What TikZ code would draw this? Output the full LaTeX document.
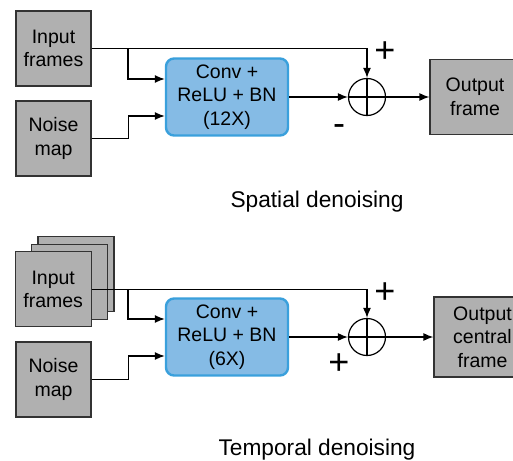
\documentclass[tikz,border=0pt]{standalone}
\usepackage{fontspec}
\setmainfont{Liberation Sans}
\usetikzlibrary{arrows.meta}
\definecolor{framegray}{RGB}{176,176,176}
\definecolor{convblue}{RGB}{133,187,229}
\definecolor{convedge}{RGB}{58,160,220}

\begin{document}
\begin{tikzpicture}[x=1pt,y=-1pt,line cap=butt,line join=miter,
  frame/.style={draw=black!80,fill=framegray,line width=1.2pt,minimum width=75pt,
    minimum height=75pt,inner sep=0pt,align=center,font=\fontsize{19.5}{23.5}\selectfont},
  conv/.style={draw=convedge,fill=convblue,line width=2.4pt,rounded corners=8pt,
    minimum width=122pt,minimum height=77pt,inner sep=0pt,align=center,
    font=\fontsize{19.5}{23.5}\selectfont},
  sum/.style={draw,circle,minimum size=37pt,inner sep=0pt,line width=1.2pt},
  sign/.style={inner sep=0pt,font=\fontsize{36}{36}\selectfont},
  caption/.style={inner sep=0pt,font=\fontsize{22.7}{26}\selectfont},
  link/.style={-{Latex[length=10pt,width=8pt]},line width=1.3pt}]
  \path[use as bounding box] (0,0) rectangle (513,460);

  % spatial denoising
  \node[frame] (inA) at (53.5,48.5) {Input\\frames};
  \node[frame] (noiseA) at (53.5,138.5) {Noise\\map};
  \node[conv] (convA) at (227,97) {Conv +\\ReLU + BN\\(12X)};
  \node[sum] (sumA) at (367,97) {};
  \node[frame,minimum width=90pt] (outA) at (475,97) {Output\\frame};
  \draw[line width=1.2pt] (sumA.north) -- (sumA.south) (sumA.west) -- (sumA.east);

  \coordinate (splitA) at (128,48.5);
  \draw[link] (inA.east) -| (sumA.north);
  \draw[link] (splitA) |- ([yshift=18pt]convA.west);
  \draw[link] (noiseA.east) -- ++(37,0) |- ([yshift=-19pt]convA.west);
  \draw[link] (convA) -- (sumA);
  \draw[link] (sumA) -- (outA);

  \node[sign] (plusA) at (385,52) {+};
  \node[sign] (minusA) at (339,130) {-};
  \node[caption] (capA) at (317,202) {Spatial denoising};

  % temporal denoising
  \node[frame,minimum width=76pt] (backB) at (76,274) {};
  \node[frame,minimum width=76pt] (midB) at (69.2,281.6) {};
  \node[frame,minimum width=76pt] (inB) at (53.2,289.2) {Input\\frames};
  \node[frame] (noiseB) at (53.5,379.5) {Noise\\map};
  \node[conv] (convB) at (227,337) {Conv +\\ReLU + BN\\(6X)};
  \node[sum] (sumB) at (367,337) {};
  \node[frame,minimum width=97pt,minimum height=80pt] (outB) at (482.5,337)
    {Output\\central\\frame};
  \draw[line width=1.2pt] (sumB.north) -- (sumB.south) (sumB.west) -- (sumB.east);

  \coordinate (splitB) at (128,289.2);
  \draw[link] (inB.east) -| (sumB.north);
  \draw[link] (splitB) |- ([yshift=18pt]convB.west);
  \draw[link] (noiseB.east) -- ++(37,0) |- ([yshift=-19pt]convB.west);
  \draw[link] (convB) -- (sumB);
  \draw[link] (sumB) -- (outB);

  \node[sign] (plusB) at (385,293) {+};
  \node[sign] (plusC) at (339,364) {+};
  \node[caption] (capB) at (317,450) {Temporal denoising};
\end{tikzpicture}
\end{document}
